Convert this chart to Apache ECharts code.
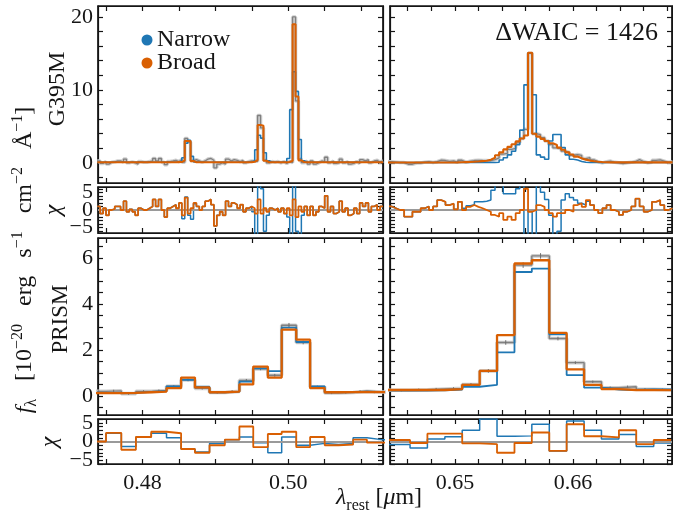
<!DOCTYPE html>
<html><head><meta charset="utf-8">
<script src="https://cdn.jsdelivr.net/npm/echarts@6/dist/echarts.min.js"></script>
<style>html,body{margin:0;padding:0;background:#fff}#c{width:673px;height:516px}</style>
</head><body><div id="c"></div>
<script>
// ---------------- DATA ----------------
// G395M left panel: uniform pixel grid (start, width) and per-pixel values
const g395LeftStart = 0.4738, g395LeftWidth = 0.0004;
const g395LeftData = [
0.27,-0.07,0.19,-0.16,0.10,0.15,0.27,0.27,0.10,0.53,
0.02,0.13,0.02,-0.16,0.19,0.10,0.10,0.19,0.27,0.61,
0.27,0.61,0.10,-0.24,0.19,0.27,0.36,0.19,0.46,0.10,
3.35,2.85,0.33,0.44,0.27,0.10,0.27,0.53,0.61,0.36,
-0.67,-0.16,0.02,-0.16,0.53,0.27,0.44,0.36,0.19,0.36,
0.02,0.19,0.27,0.23,0.23,6.50,4.80,0.38,0.02,0.19,
0.10,0.19,0.02,0.19,-0.07,0.20,0.05,20.0,8.50,0.55,
0.03,0.27,-0.16,0.27,-0.16,0.02,0.27,0.19,0.78,0.02,
0.27,-0.07,0.02,0.53,0.02,0.19,-0.16,-0.07,0.19,-0.07,
0.44,0.27,0.44,0.02,0.27,0.36,0.10,0.27];
const g395LeftNarrow = [
0.10,0.10,0.10,0.10,0.10,0.10,0.10,0.10,0.10,0.10,
0.10,0.10,0.10,0.10,0.10,0.10,0.10,0.10,0.10,0.10,
0.10,0.10,0.10,0.10,0.10,0.10,0.10,0.10,0.10,0.70,
2.70,3.10,0.90,0.15,0.10,0.10,0.10,0.10,0.10,0.10,
0.10,0.10,0.10,0.10,0.10,0.10,0.10,0.10,0.10,0.10,
0.10,0.10,0.10,0.30,1.80,3.80,3.40,1.40,0.30,0.10,
0.10,0.10,0.10,0.10,0.10,0.60,7.30,12.5,9.80,3.20,
0.30,0.10,0.10,0.10,0.10,0.10,0.10,0.10,0.10,0.10,
0.10,0.10,0.10,0.10,0.10,0.10,0.10,0.10,0.10,0.10,
0.10,0.10,0.10,0.10,0.10,0.10,0.10,0.10];
const g395LeftBroad = [
0.10,0.10,0.10,0.10,0.10,0.10,0.10,0.10,0.10,0.10,
0.10,0.10,0.10,0.10,0.10,0.10,0.10,0.10,0.10,0.10,
0.10,0.10,0.10,0.10,0.10,0.10,0.10,0.11,0.12,0.35,
3.00,3.00,0.25,0.10,0.10,0.10,0.10,0.10,0.10,0.10,
0.10,0.10,0.10,0.10,0.10,0.10,0.10,0.10,0.10,0.10,
0.10,0.10,0.10,0.15,0.40,5.20,5.10,0.30,0.10,0.10,
0.10,0.10,0.10,0.10,0.10,0.12,0.30,19.0,9.10,0.35,
0.12,0.10,0.10,0.10,0.10,0.10,0.10,0.10,0.10,0.10,
0.10,0.10,0.10,0.10,0.10,0.10,0.10,0.10,0.10,0.10,
0.10,0.10,0.10,0.10,0.10,0.10,0.10,0.10];
const g395LeftChiNarrow = [
1,-1,0.5,-1.5,0,0.3,1,1,0,2.5,
-0.5,0.2,-0.5,-1.5,0.5,0,0,0.5,1,3,
1,3,0,-2,0.5,1,1.5,0.5,2,-2.5,
3.7,-1.5,-2.6,1.8,1,0,1,2.5,3,1.5,
-4.5,-1.5,-0.5,-1.5,2.5,1,2,1.5,0.5,1.5,
-0.5,0.5,1,-0.5,-8,8,6,-6,-1.5,0.5,
0,0.5,-0.5,0.5,-1,-2,-9,9,-6,-8,
-1.5,1,-1.5,1,-1.5,-0.5,1,0.5,4,-0.5,
1,-1,-0.5,2.5,-0.5,0.5,-1.5,-1,0.5,-1,
2,1,2,-0.5,1,1.5,0,1];
const g395LeftChiBroad = [
1,-1,0.5,-1.5,0,0.3,1,1,0,2.5,
-0.5,0.2,-0.5,-1.5,0.5,0,0,0.5,1,3,
1,3,0,-2,0.5,1,1.5,0.5,2,-1.5,
3.5,-1,0.5,2,1,0,1,2.5,3,1.5,
-4.5,-1.5,-0.5,-1.5,2.5,1,2,1.5,0.5,1.5,
-0.5,0.5,1,0.5,-1,3,-1,0.5,-0.5,0.5,
0,0.5,-0.5,0.5,-1,0.5,-1.5,3,-2,1,
-0.5,1,-1.5,1,-1.5,-0.5,1,0.5,4,-0.5,
1,-1,-0.5,2.5,-0.5,0.5,-1.5,-1,0.5,-1,
2,1,2,-0.5,1,1.5,0,1];

// G395M right panel
const g395RightStart = 0.6443, g395RightWidth = 0.00035;
const g395RightData = [
0.17,0.11,0.05,0.05,-0.18,-0.18,-0.01,-0.01,0.11,0.17,
0.05,0.17,0.39,0.33,0.22,0.28,0.09,0.37,0.11,0.24,
0.33,0.35,0.33,0.32,0.30,0.45,0.70,1.20,1.30,1.85,
2.00,2.75,3.35,4.60,15.0,4.00,3.88,3.48,3.00,2.52,
2.07,1.92,1.62,1.45,1.05,1.15,1.03,0.60,0.72,0.42,
0.16,0.01,0.16,0.25,0.08,0.02,-0.09,0.02,0.08,0.20,
0.46,0.20,0.02,0.08,0.36,0.42,0.25,0.08,0.14];
const g395RightNarrow = [
0.05,0.05,0.05,0.05,0.05,0.05,0.05,0.05,0.05,0.05,
0.05,0.05,0.05,0.05,0.05,0.05,0.05,0.05,0.05,0.05,
0.05,0.05,0.05,0.05,0.05,0.05,0.10,0.40,0.70,1.10,
1.60,2.50,4.50,10.7,15.1,9.35,1.10,0.80,0.50,3.00,
3.90,3.90,2.10,1.10,0.50,0.40,0.20,0.10,0.05,0.05,
0.05,0.05,0.05,0.05,0.05,0.05,0.05,0.05,0.05,0.05,
0.05,0.05,0.05,0.05,0.05,0.05,0.05,0.05,0.05];
const g395RightBroad = [
0.05,0.05,0.05,0.05,0.05,0.05,0.05,0.05,0.05,0.05,
0.05,0.05,0.05,0.05,0.05,0.06,0.07,0.09,0.11,0.13,
0.16,0.20,0.25,0.30,0.45,0.70,1.05,1.45,1.85,2.20,
2.55,2.95,3.35,3.75,15.1,4.00,3.60,3.30,3.00,2.70,
2.45,2.10,1.80,1.45,1.15,0.87,0.65,0.45,0.32,0.22,
0.16,0.12,0.10,0.08,0.08,0.08,0.08,0.08,0.08,0.08,
0.08,0.08,0.08,0.08,0.08,0.08,0.08,0.08,0.08];
const g395RightChiNarrow = [
1,0.5,0,0,-1.9,-1.9,-0.5,-0.5,0.5,1,
0,1,2.8,2.3,1.4,1.8,0.2,2.3,0.5,1.2,
1.5,2.3,2.3,2.5,2.8,5.6,7,7,4.6,4.6,
4.6,6,7,-8,0,-8,7,5,3,-1.5,
-7,-6,2.8,4.6,3.5,2.8,1.9,1.4,2.5,1.4,
0,-0.9,0.5,1.4,0,-0.5,-1.4,-0.5,0,1,
3.2,1,-0.5,0,2.3,2.8,1.4,0,0.5];
const g395RightChiBroad = [
1,0.5,0,0,-1.9,-1.9,-0.5,-0.5,0.5,1,
0,1,2.8,2.3,1.4,1.8,0.2,2.3,0,0.9,
1.4,0.9,0.5,0,-0.5,-1.4,-1.9,-0.9,-2.8,-1.9,
-2.8,-0.9,0,6,-0.5,0,1.4,0.9,0,-0.9,
-1.9,-0.9,-0.9,0,-0.5,1.4,1.9,0.9,2.8,1.4,
0,-0.9,0.5,1.4,0,-0.5,-1.4,-0.5,0,1,
3.2,1,-0.5,0,2.3,2.8,1.4,0,0.5];

// PRISM left panel (bin edges + per-bin values)
const prismLeftEdges = [0.4730,0.4750,0.4771,0.4791,0.4812,0.4833,0.4853,0.4872,0.4892,0.4913,0.4933,0.4952,0.4972,0.4991,0.5011,0.5030,0.5050,0.5069,0.5089,0.5108,0.5128,0.5148];
const prismLeftData   = [0.20,0.22,0.10,0.20,0.23,0.42,0.70,0.33,0.15,0.20,0.68,1.18,0.90,3.08,2.33,0.40,0.13,0.15,0.20,0.17,0.17];
const prismLeftErr    = [0.05,0.05,0.05,0.05,0.05,0.05,0.06,0.05,0.05,0.05,0.06,0.06,0.06,0.10,0.08,0.05,0.05,0.05,0.05,0.05,0.05];
const prismLeftNarrow = [0.13,0.13,0.13,0.18,0.22,0.42,0.70,0.40,0.16,0.19,0.62,1.20,1.08,2.98,2.35,0.42,0.18,0.17,0.20,0.17,0.17];
const prismLeftBroad  = [0.12,0.12,0.13,0.16,0.19,0.34,0.80,0.37,0.16,0.19,0.50,1.28,0.80,2.89,2.45,0.34,0.16,0.17,0.18,0.17,0.17];
const prismLeftChiNarrow = [0,2.2,-1.3,1.2,2.2,1,-2,-2.8,-0.5,0.5,1.2,-0.3,-3,1.2,-1,-0.5,-0.8,-0.5,1,0.5,0.5];
const prismLeftChiBroad  = [0,2.3,-2.2,1.2,2.6,2.2,-2,-3,-1,0.5,4,-1.5,2,2.6,-1.5,1.2,-1,-0.8,0.5,-0.3,-0.3];

// PRISM right panel
const prismRightEdges = [0.64325,0.64472,0.6462,0.64767,0.64915,0.65062,0.6521,0.65357,0.65505,0.65652,0.658,0.65947,0.66095,0.66242,0.6639,0.66537,0.66685,0.66832];
const prismRightData   = [0.25,0.25,0.27,0.30,0.33,0.50,1.09,2.33,5.70,6.10,2.50,1.45,0.62,0.36,0.40,0.29,0.27];
const prismRightErr    = [0.05,0.05,0.05,0.05,0.05,0.06,0.08,0.10,0.12,0.12,0.08,0.06,0.05,0.05,0.05,0.05,0.05];
const prismRightNarrow = [0.23,0.23,0.23,0.24,0.28,0.40,0.48,1.90,5.40,5.55,2.68,0.91,0.36,0.28,0.26,0.28,0.28];
const prismRightBroad  = [0.26,0.26,0.26,0.26,0.30,0.48,1.09,2.65,5.77,5.91,2.75,1.16,0.48,0.30,0.26,0.25,0.25];
const prismRightChiNarrow = [-0.8,-0.8,-1.7,0.7,1.3,3,6,1.4,1.5,4.6,-2.5,5.5,3,0.7,1.9,-1.3,-0.4];
const prismRightChiBroad  = [0.4,0.4,-0.4,2.1,2.1,-0.5,-0.7,-3,-0.4,2.4,-2.5,4.6,1.4,1.1,3,-0.7,0.4];

// Axis ranges, tick positions and labelled ticks
const xRangeLeft = [0.4739, 0.5130], xRangeRight = [0.6445, 0.6684];
const xLabelsLeft = [0.48, 0.50], xTicksLeft = [0.475, 0.48, 0.485, 0.49, 0.495, 0.50, 0.505, 0.51];
const xLabelsRight = [0.65, 0.66], xTicksRight = [0.646, 0.648, 0.65, 0.652, 0.654, 0.656, 0.658, 0.66, 0.662, 0.664, 0.666, 0.668];
const yRangeG395 = [-2.75, 21.5], yLabelsG395 = [0, 10, 20], yTicksG395 = [-2, 0, 2, 4, 6, 8, 10, 12, 14, 16, 18, 20];
const yRangeChiTop = [-6.5, 6.5], yRangeChiBot = [-6, 6];
const yLabelsChi = [-5, 0, 5], yTicksChi = [-6, -5, -4, -3, -2, -1, 0, 1, 2, 3, 4, 5, 6];
const yRangePrism = [-0.83, 6.88], yLabelsPrism = [0, 2, 4, 6], yTicksPrism = [-0.5, 0, 0.5, 1, 1.5, 2, 2.5, 3, 3.5, 4, 4.5, 5, 5.5, 6, 6.5];
const legendNames = ['Narrow', 'Broad'];
const waicText = 'ΔWAIC = 1426';

// ---------------- STYLE / BUILD ----------------
const FONT = '"Liberation Serif", "Times New Roman", serif';
const TICK_FS = 22;
const C_BLUE = '#1f77b4', C_ORANGE = '#d95f02', C_GRAY = '#808080', C_INK = '#151515';
const grids = [], xAxes = [], yAxes = [], series = [];

function gridEdges(start, width, n) { const e = []; for (let i = 0; i <= n; i++) e.push(+(start + width * i).toFixed(6)); return e; }
function steps(edges, vals) { const out = vals.map((v, i) => [edges[i], v]); out.push([edges[vals.length], vals[vals.length - 1]]); return out; }
function fmtNum(dec) { return v => { const s = Math.abs(v).toFixed(dec); return v < -1e-9 ? '\u2212' + s : s; }; }

function panel(box, xr, xLabs, xTicks, yr, yLabs, yTicks, xLab, yLab) {
  const gi = grids.length;
  grids.push({ left: box[0], top: box[1], width: box[2], height: box[3], show: true, borderColor: C_INK, borderWidth: 1.7, backgroundColor: 'rgba(0,0,0,0)' });
  const mk = (isX, pos, ticks, labs, showLab) => ({
    type: 'value', gridIndex: gi, position: pos, min: (isX ? xr : yr)[0], max: (isX ? xr : yr)[1],
    axisLine: { show: true, onZero: false, lineStyle: { color: C_INK, width: 1.2 } }, splitLine: { show: false },
    axisTick: { show: true, inside: true, length: 5, customValues: ticks, lineStyle: { color: C_INK, width: 1.2 } },
    axisLabel: { show: showLab, customValues: labs, hideOverlap: false, color: C_INK, fontFamily: FONT, fontSize: TICK_FS,
      margin: isX ? 8 : 5, formatter: fmtNum(isX ? 2 : 0) }
  });
  const xi = xAxes.length, yi = yAxes.length;
  xAxes.push(mk(true, 'bottom', xTicks, xLabs, xLab), mk(true, 'top', xTicks, xLabs, false));
  yAxes.push(mk(false, 'left', yTicks, yLabs, yLab), mk(false, 'right', yTicks, yLabs, false));
  return { xi, yi, gi, box };
}

function stepSeries(ax, data, color, width, z, extra) {
  return Object.assign({ type: 'line', xAxisIndex: ax.xi, yAxisIndex: ax.yi, data, step: 'end', symbol: 'none', showSymbol: false,
    lineStyle: { color, width }, itemStyle: { color }, z, silent: true, animation: false, clip: true }, extra || {});
}
function zeroLine() {
  return { silent: true, symbol: ['none', 'none'], label: { show: false }, animation: false,
    lineStyle: { color: '#9a9a9a', width: 2.2, type: 'solid' }, data: [{ yAxis: 0 }] };
}
function errSeries(ax, edges, vals, errs) {
  const d = vals.map((v, i) => [(edges[i] + edges[i + 1]) / 2, v, errs[i]]);
  return { type: 'custom', xAxisIndex: ax.xi, yAxisIndex: ax.yi, data: d, z: 3, silent: true, animation: false, clip: true,
    renderItem: (p, api) => {
      const x = api.value(0), y = api.value(1), e = api.value(2);
      const a = api.coord([x, y - e]), b = api.coord([x, y + e]);
      return { type: 'line', shape: { x1: a[0], y1: a[1], x2: b[0], y2: b[1] }, style: { stroke: '#6f6f6f', lineWidth: 1 } };
    } };
}

const BL = 98, BR = 390, WL = 285, WR = 282;
const pG_L = panel([BL, 6, WL, 177], xRangeLeft, xLabelsLeft, xTicksLeft, yRangeG395, yLabelsG395, yTicksG395, false, true);
const pG_R = panel([BR, 6, WR, 177], xRangeRight, xLabelsRight, xTicksRight, yRangeG395, yLabelsG395, yTicksG395, false, false);
// chi panels: the y tick labels are placed below through the axis scale (avoids automatic overlap hiding)
const pC1_L = panel([BL, 187, WL, 46], xRangeLeft, xLabelsLeft, xTicksLeft, yRangeChiTop, yLabelsChi, yTicksChi, false, false);
const pC1_R = panel([BR, 187, WR, 46], xRangeRight, xLabelsRight, xTicksRight, yRangeChiTop, yLabelsChi, yTicksChi, false, false);
const pP_L = panel([BL, 238, WL, 177], xRangeLeft, xLabelsLeft, xTicksLeft, yRangePrism, yLabelsPrism, yTicksPrism, false, true);
const pP_R = panel([BR, 238, WR, 177], xRangeRight, xLabelsRight, xTicksRight, yRangePrism, yLabelsPrism, yTicksPrism, false, false);
const pC2_L = panel([BL, 419, WL, 45], xRangeLeft, xLabelsLeft, xTicksLeft, yRangeChiBot, yLabelsChi, yTicksChi, true, false);
const pC2_R = panel([BR, 419, WR, 45], xRangeRight, xLabelsRight, xTicksRight, yRangeChiBot, yLabelsChi, yTicksChi, true, false);

const eGL = gridEdges(g395LeftStart, g395LeftWidth, g395LeftData.length);
const eGR = gridEdges(g395RightStart, g395RightWidth, g395RightData.length);

function specPanel(ax, edges, data, narrow, broad, dw, mw) {
  series.push(stepSeries(ax, steps(edges, data), '#cfcfcf', dw + 2.2, 1));
  series.push(stepSeries(ax, steps(edges, data), C_GRAY, dw, 2));
  series.push(stepSeries(ax, steps(edges, narrow), C_BLUE, mw, 4, { name: legendNames[0] }));
  series.push(stepSeries(ax, steps(edges, broad), C_ORANGE, mw + 0.5, 5, { name: legendNames[1] }));
}
function chiPanel(ax, edges, chiN, chiB) {
  series.push(stepSeries(ax, steps(edges, chiN), C_BLUE, 1.5, 4, { markLine: zeroLine() }));
  series.push(stepSeries(ax, steps(edges, chiB), C_ORANGE, 1.8, 5));
}

specPanel(pG_L, eGL, g395LeftData, g395LeftNarrow, g395LeftBroad, 1.3, 1.6);
specPanel(pG_R, eGR, g395RightData, g395RightNarrow, g395RightBroad, 1.3, 1.6);
chiPanel(pC1_L, eGL, g395LeftChiNarrow, g395LeftChiBroad);
chiPanel(pC1_R, eGR, g395RightChiNarrow, g395RightChiBroad);
specPanel(pP_L, prismLeftEdges, prismLeftData, prismLeftNarrow, prismLeftBroad, 1.4, 1.8);
specPanel(pP_R, prismRightEdges, prismRightData, prismRightNarrow, prismRightBroad, 1.4, 1.8);
series.push(errSeries(pP_L, prismLeftEdges, prismLeftData, prismLeftErr));
series.push(errSeries(pP_R, prismRightEdges, prismRightData, prismRightErr));
chiPanel(pC2_L, prismLeftEdges, prismLeftChiNarrow, prismLeftChiBroad);
chiPanel(pC2_R, prismRightEdges, prismRightChiNarrow, prismRightChiBroad);

const richBase = {
  n: { fontFamily: FONT, fontSize: 24, lineHeight: 30, verticalAlign: 'middle', color: C_INK },
  i: { fontFamily: FONT, fontSize: 24, fontStyle: 'italic', lineHeight: 30, verticalAlign: 'middle', color: C_INK },
  sp: { fontFamily: FONT, fontSize: 16, lineHeight: 13, verticalAlign: 'top', color: C_INK },
  sb: { fontFamily: FONT, fontSize: 16, lineHeight: 13, verticalAlign: 'bottom', color: C_INK }
};
function vtext(x, y, text, size, italic) {
  return { type: 'text', x, y, rotation: Math.PI / 2, silent: true,
    style: { text, fontFamily: FONT, fontSize: size, fontStyle: italic ? 'italic' : 'normal', fill: C_INK, align: 'center', verticalAlign: 'middle' } };
}
const GAP = '   ';
const graphic = [
  { type: 'circle', shape: { cx: 147, cy: 40, r: 5.5 }, style: { fill: C_BLUE }, silent: true },
  { type: 'circle', shape: { cx: 147, cy: 63, r: 5.5 }, style: { fill: C_ORANGE }, silent: true },
  { type: 'text', x: 157, y: 40, silent: true, style: { text: legendNames[0], fontFamily: FONT, fontSize: 24, fill: C_INK, verticalAlign: 'middle' } },
  { type: 'text', x: 157, y: 63, silent: true, style: { text: legendNames[1], fontFamily: FONT, fontSize: 24, fill: C_INK, verticalAlign: 'middle' } },
  { type: 'text', x: 658, y: 33, silent: true, style: { text: waicText, fontFamily: FONT, fontSize: 26, fill: C_INK, align: 'right', verticalAlign: 'middle' } },
  vtext(58, 89, 'G395M', 24, false),
  vtext(61, 319, 'PRISM', 23, false),
  vtext(54, 210, 'χ', 24, true),
  vtext(50, 442, 'χ', 24, true),
  { type: 'text', x: 25, y: 260, rotation: Math.PI / 2, silent: true,
    style: { text: '{i|f}{sb|λ}{n|' + GAP + '[10}{sp|\u221220}{n|' + GAP + 'erg' + GAP + 's}{sp|\u22121}{n|' + GAP + 'cm}{sp|\u22122}{n|' + GAP + 'Å}{sp|\u22121}{n|]}',
      rich: richBase, align: 'center', verticalAlign: 'middle', fill: C_INK } },
  { type: 'text', x: 379, y: 498, silent: true,
    style: { text: '{i|λ}{sb|rest}{n| [}{i|μ}{n|m]}',
      rich: { n: Object.assign({}, richBase.n, { fontSize: 24, lineHeight: 32 }), i: Object.assign({}, richBase.i, { fontSize: 24, lineHeight: 32 }), sb: { fontFamily: FONT, fontSize: 16, lineHeight: 14, verticalAlign: 'bottom', color: C_INK } },
      align: 'center', verticalAlign: 'middle', fill: C_INK } }
];

const chart = echarts.init(document.getElementById('c'), null, { renderer: 'canvas' });
chart.setOption({ animation: false, backgroundColor: '#fff', grid: grids, xAxis: xAxes, yAxis: yAxes, series, graphic });

// chi-panel y tick labels, positioned with the axis scale
const fy = fmtNum(0);
const chiLabels = [];
[pC1_L, pC2_L].forEach(p => {
  yLabelsChi.forEach(v => {
    const py = chart.convertToPixel({ yAxisIndex: p.yi }, v);
    chiLabels.push({ type: 'text', x: p.box[0] - 5, y: py, silent: true, z: 10,
      style: { text: fy(v), fontFamily: FONT, fontSize: TICK_FS, fill: C_INK, align: 'right', verticalAlign: 'middle' } });
  });
});
chart.setOption({ graphic: graphic.concat(chiLabels) });
</script></body></html>
